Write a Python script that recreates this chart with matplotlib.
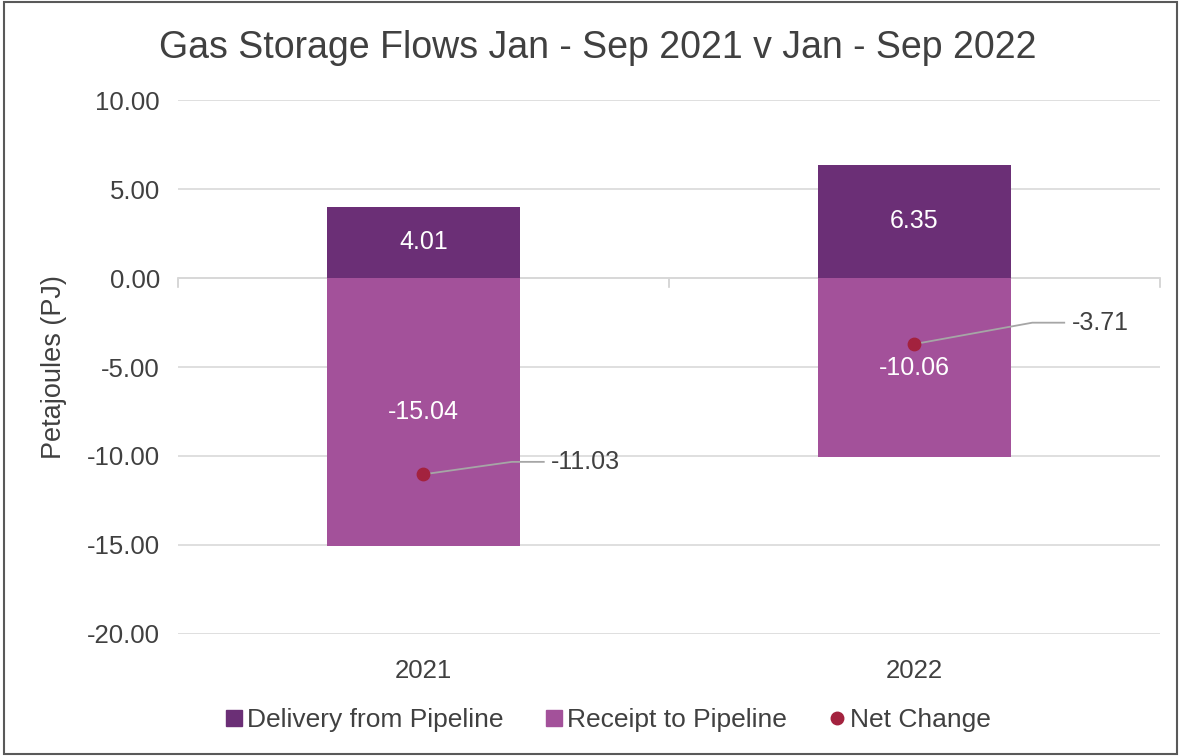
import matplotlib
matplotlib.use("Agg")
import matplotlib.pyplot as plt
from matplotlib.patches import Rectangle
from matplotlib.lines import Line2D

years = ["2021", "2022"]
delivery = [4.01, 6.35]
receipt = [-15.04, -10.06]
net_change = [-11.03, -3.71]
y_ticks = [10, 5, 0, -5, -10, -15, -20]

DARK = "#6B2F76"
LIGHT = "#A3519A"
DOT = "#A3223E"
TEXT = "#404040"
GRID = "#D9D9D9"

plt.rcParams["font.family"] = ["Liberation Sans", "DejaVu Sans"]

fig = plt.figure(figsize=(11.81, 7.56), dpi=100)
ax = fig.add_axes([0.1507, 0.1614, 0.8315, 0.7063])

x = list(range(len(years)))
width = 0.395
ax.bar(x, delivery, width=width, color=DARK, zorder=2, label="Delivery from Pipeline")
ax.bar(x, receipt, width=width, color=LIGHT, zorder=2, label="Receipt to Pipeline")
ax.scatter(x, net_change, s=80, color=DOT, zorder=4, label="Net Change")

for i in x:
    ax.text(i, delivery[i] / 2, f"{delivery[i]:.2f}", ha="center", va="center",
            color="white", fontsize=18, zorder=5)
    ax.text(i, receipt[i] / 2, f"{receipt[i]:.2f}", ha="center", va="center",
            color="white", fontsize=18, zorder=5)

# net change labels with leader lines
offsets = [(0.18, 0.7), (0.24, 1.2)]
for i in x:
    dx, dy = offsets[i]
    lx, ly = i + dx, net_change[i] + dy
    ax.plot([i, lx, lx + 0.065], [net_change[i], ly, ly], color="#A6A6A6", lw=1.3, zorder=3)
    ax.text(lx + 0.08, ly, f"{net_change[i]:.2f}", ha="left", va="center",
            color=TEXT, fontsize=18, zorder=5)

ax.set_xlim(-0.5, 1.5)
ax.set_ylim(-20, 10)
ax.set_yticks(y_ticks)
ax.set_yticklabels([f"{v:.2f}" for v in y_ticks])
ax.set_xticks(x)
ax.set_xticklabels(years)
ax.tick_params(axis="both", length=0, labelsize=18.5, labelcolor=TEXT)
ax.tick_params(axis="x", pad=18)
ax.tick_params(axis="y", pad=13)
ax.grid(axis="y", color=GRID, lw=1.2, zorder=0)
for s in ax.spines.values():
    s.set_visible(False)
ax.axhline(0, color="#D0D0D0", lw=1.2, zorder=1)
for t in [-0.5, 0.5, 1.5]:
    ax.plot([t, t], [0, -0.5], color="#D0D0D0", lw=1.2, zorder=1, clip_on=False)

ax.set_ylabel("Petajoules (PJ)", fontsize=19.5, color=TEXT, labelpad=14)
fig.text(0.506, 0.937, "Gas Storage Flows Jan - Sep 2021 v Jan - Sep 2022",
         ha="center", va="center", fontsize=27, color=TEXT)

handles = [
    Line2D([], [], marker="s", ls="", color=DARK, markersize=12),
    Line2D([], [], marker="s", ls="", color=LIGHT, markersize=12),
    Line2D([], [], marker="o", ls="", color=DOT, markersize=9),
]
fig.legend(handles, ["Delivery from Pipeline", "Receipt to Pipeline", "Net Change"],
           loc="center", bbox_to_anchor=(0.513, 0.047), ncol=3, frameon=False,
           fontsize=19, labelcolor=TEXT, handletextpad=0.0, columnspacing=1.4,
           handlelength=1.0)

fig.add_artist(Rectangle((0.003, 0.002), 0.994, 0.995, transform=fig.transFigure,
                         fill=False, edgecolor="#595959", lw=1.5))

fig.savefig("out.png", dpi=100)
